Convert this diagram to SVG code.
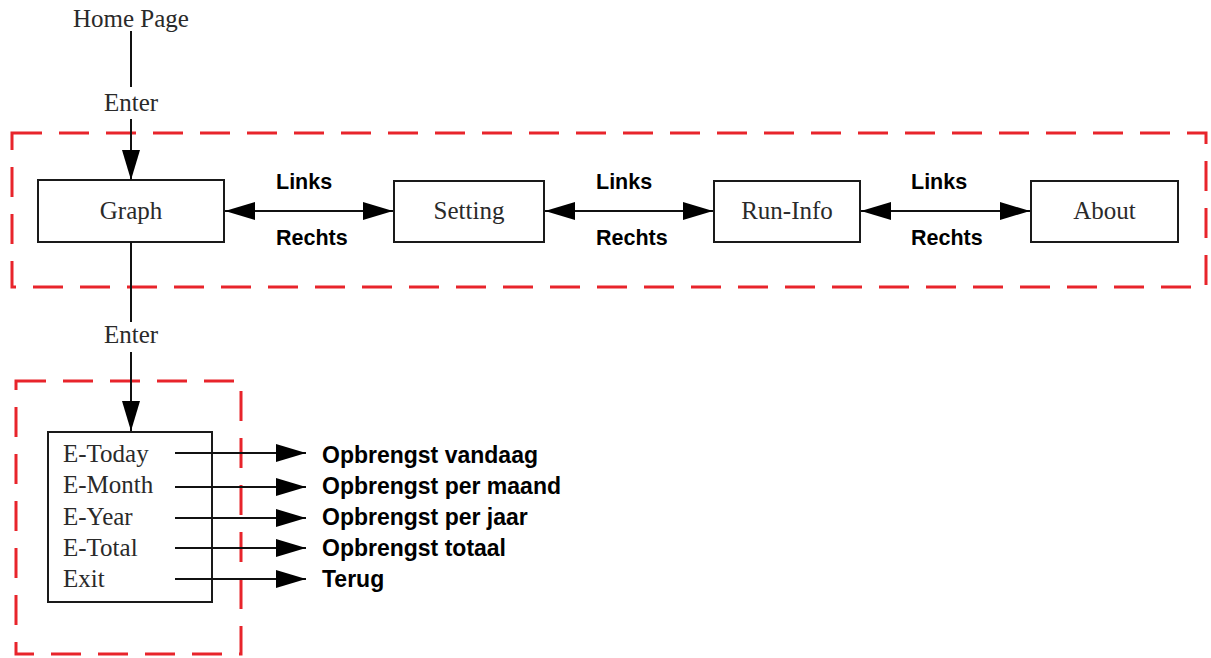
<svg xmlns="http://www.w3.org/2000/svg" width="1211" height="658" viewBox="0 0 1211 658">
<style>
.bg{fill:#fff}
.box{fill:#fff;stroke:#1a1a1a;stroke-width:2}
.grp{fill:none;stroke:#e8242b;stroke-width:3;stroke-dasharray:30 17}
.ser{font-family:"Liberation Serif","Times New Roman",serif;font-size:25px;fill:#2a2a2a}
.lbl{font-family:"Liberation Sans",Arial,sans-serif;font-weight:bold;font-size:21.5px;fill:#000}
.out{font-family:"Liberation Sans",Arial,sans-serif;font-weight:bold;font-size:23px;fill:#000}
.ln{fill:none;stroke:#111;stroke-width:2}
</style>
<defs>
<marker id="ah" viewBox="0 0 30 18" refX="30" refY="9" markerWidth="30" markerHeight="18" markerUnits="userSpaceOnUse" orient="auto-start-reverse">
<path d="M0,0 L30,9 L0,18 Z" fill="#000"/>
</marker>
</defs>
<rect class="bg" x="0" y="0" width="1211" height="658"/>
<g id="groups">
<rect class="grp" x="12" y="133" width="1194" height="154"/>
<rect class="grp" x="16" y="381" width="225" height="273"/>
</g>
<g id="home">
<text class="ser" x="131" y="27" text-anchor="middle">Home Page</text>
</g>
<g id="graph">
<rect class="box" x="38" y="180" width="186" height="62"/>
<text class="ser" x="131" y="219" text-anchor="middle">Graph</text>
</g>
<g id="setting">
<rect class="box" x="394" y="181" width="150" height="61"/>
<text class="ser" x="469" y="219" text-anchor="middle">Setting</text>
</g>
<g id="runinfo">
<rect class="box" x="714" y="181" width="146" height="61"/>
<text class="ser" x="787" y="219" text-anchor="middle">Run-Info</text>
</g>
<g id="about">
<rect class="box" x="1031" y="181" width="147" height="61"/>
<text class="ser" x="1104.5" y="219" text-anchor="middle">About</text>
</g>
<g id="menu">
<rect class="box" x="48" y="432" width="164" height="170"/>
<text class="ser" x="63" y="462">E-Today</text>
<text class="ser" x="63" y="493">E-Month</text>
<text class="ser" x="63" y="525">E-Year</text>
<text class="ser" x="63" y="556">E-Total</text>
<text class="ser" x="63" y="587">Exit</text>
</g>
<g id="outputs">
<text class="out" x="322" y="463">Opbrengst vandaag</text>
<text class="out" x="322" y="494">Opbrengst per maand</text>
<text class="out" x="322" y="525">Opbrengst per jaar</text>
<text class="out" x="322" y="556">Opbrengst totaal</text>
<text class="out" x="322" y="587">Terug</text>
</g>
<g id="connectors">
<line class="ln" x1="131" y1="31" x2="131" y2="87"/>
<line class="ln" x1="131" y1="119" x2="131" y2="180" marker-end="url(#ah)"/>
<line class="ln" x1="131" y1="242" x2="131" y2="322"/>
<line class="ln" x1="131" y1="352" x2="131" y2="431" marker-end="url(#ah)"/>
<line class="ln" x1="225" y1="211" x2="393" y2="211" marker-start="url(#ah)" marker-end="url(#ah)"/>
<line class="ln" x1="545" y1="211" x2="713" y2="211" marker-start="url(#ah)" marker-end="url(#ah)"/>
<line class="ln" x1="861" y1="211" x2="1030" y2="211" marker-start="url(#ah)" marker-end="url(#ah)"/>
<line class="ln" x1="175" y1="453" x2="306" y2="453" marker-end="url(#ah)"/>
<line class="ln" x1="175" y1="487" x2="306" y2="487" marker-end="url(#ah)"/>
<line class="ln" x1="175" y1="518" x2="306" y2="518" marker-end="url(#ah)"/>
<line class="ln" x1="175" y1="548" x2="306" y2="548" marker-end="url(#ah)"/>
<line class="ln" x1="175" y1="579" x2="306" y2="579" marker-end="url(#ah)"/>
<text class="ser" x="131" y="111" text-anchor="middle">Enter</text>
<text class="ser" x="131" y="343" text-anchor="middle">Enter</text>
<text class="lbl" x="276" y="189">Links</text>
<text class="lbl" x="276" y="245">Rechts</text>
<text class="lbl" x="596" y="189">Links</text>
<text class="lbl" x="596" y="245">Rechts</text>
<text class="lbl" x="911" y="189">Links</text>
<text class="lbl" x="911" y="245">Rechts</text>
</g>
</svg>
